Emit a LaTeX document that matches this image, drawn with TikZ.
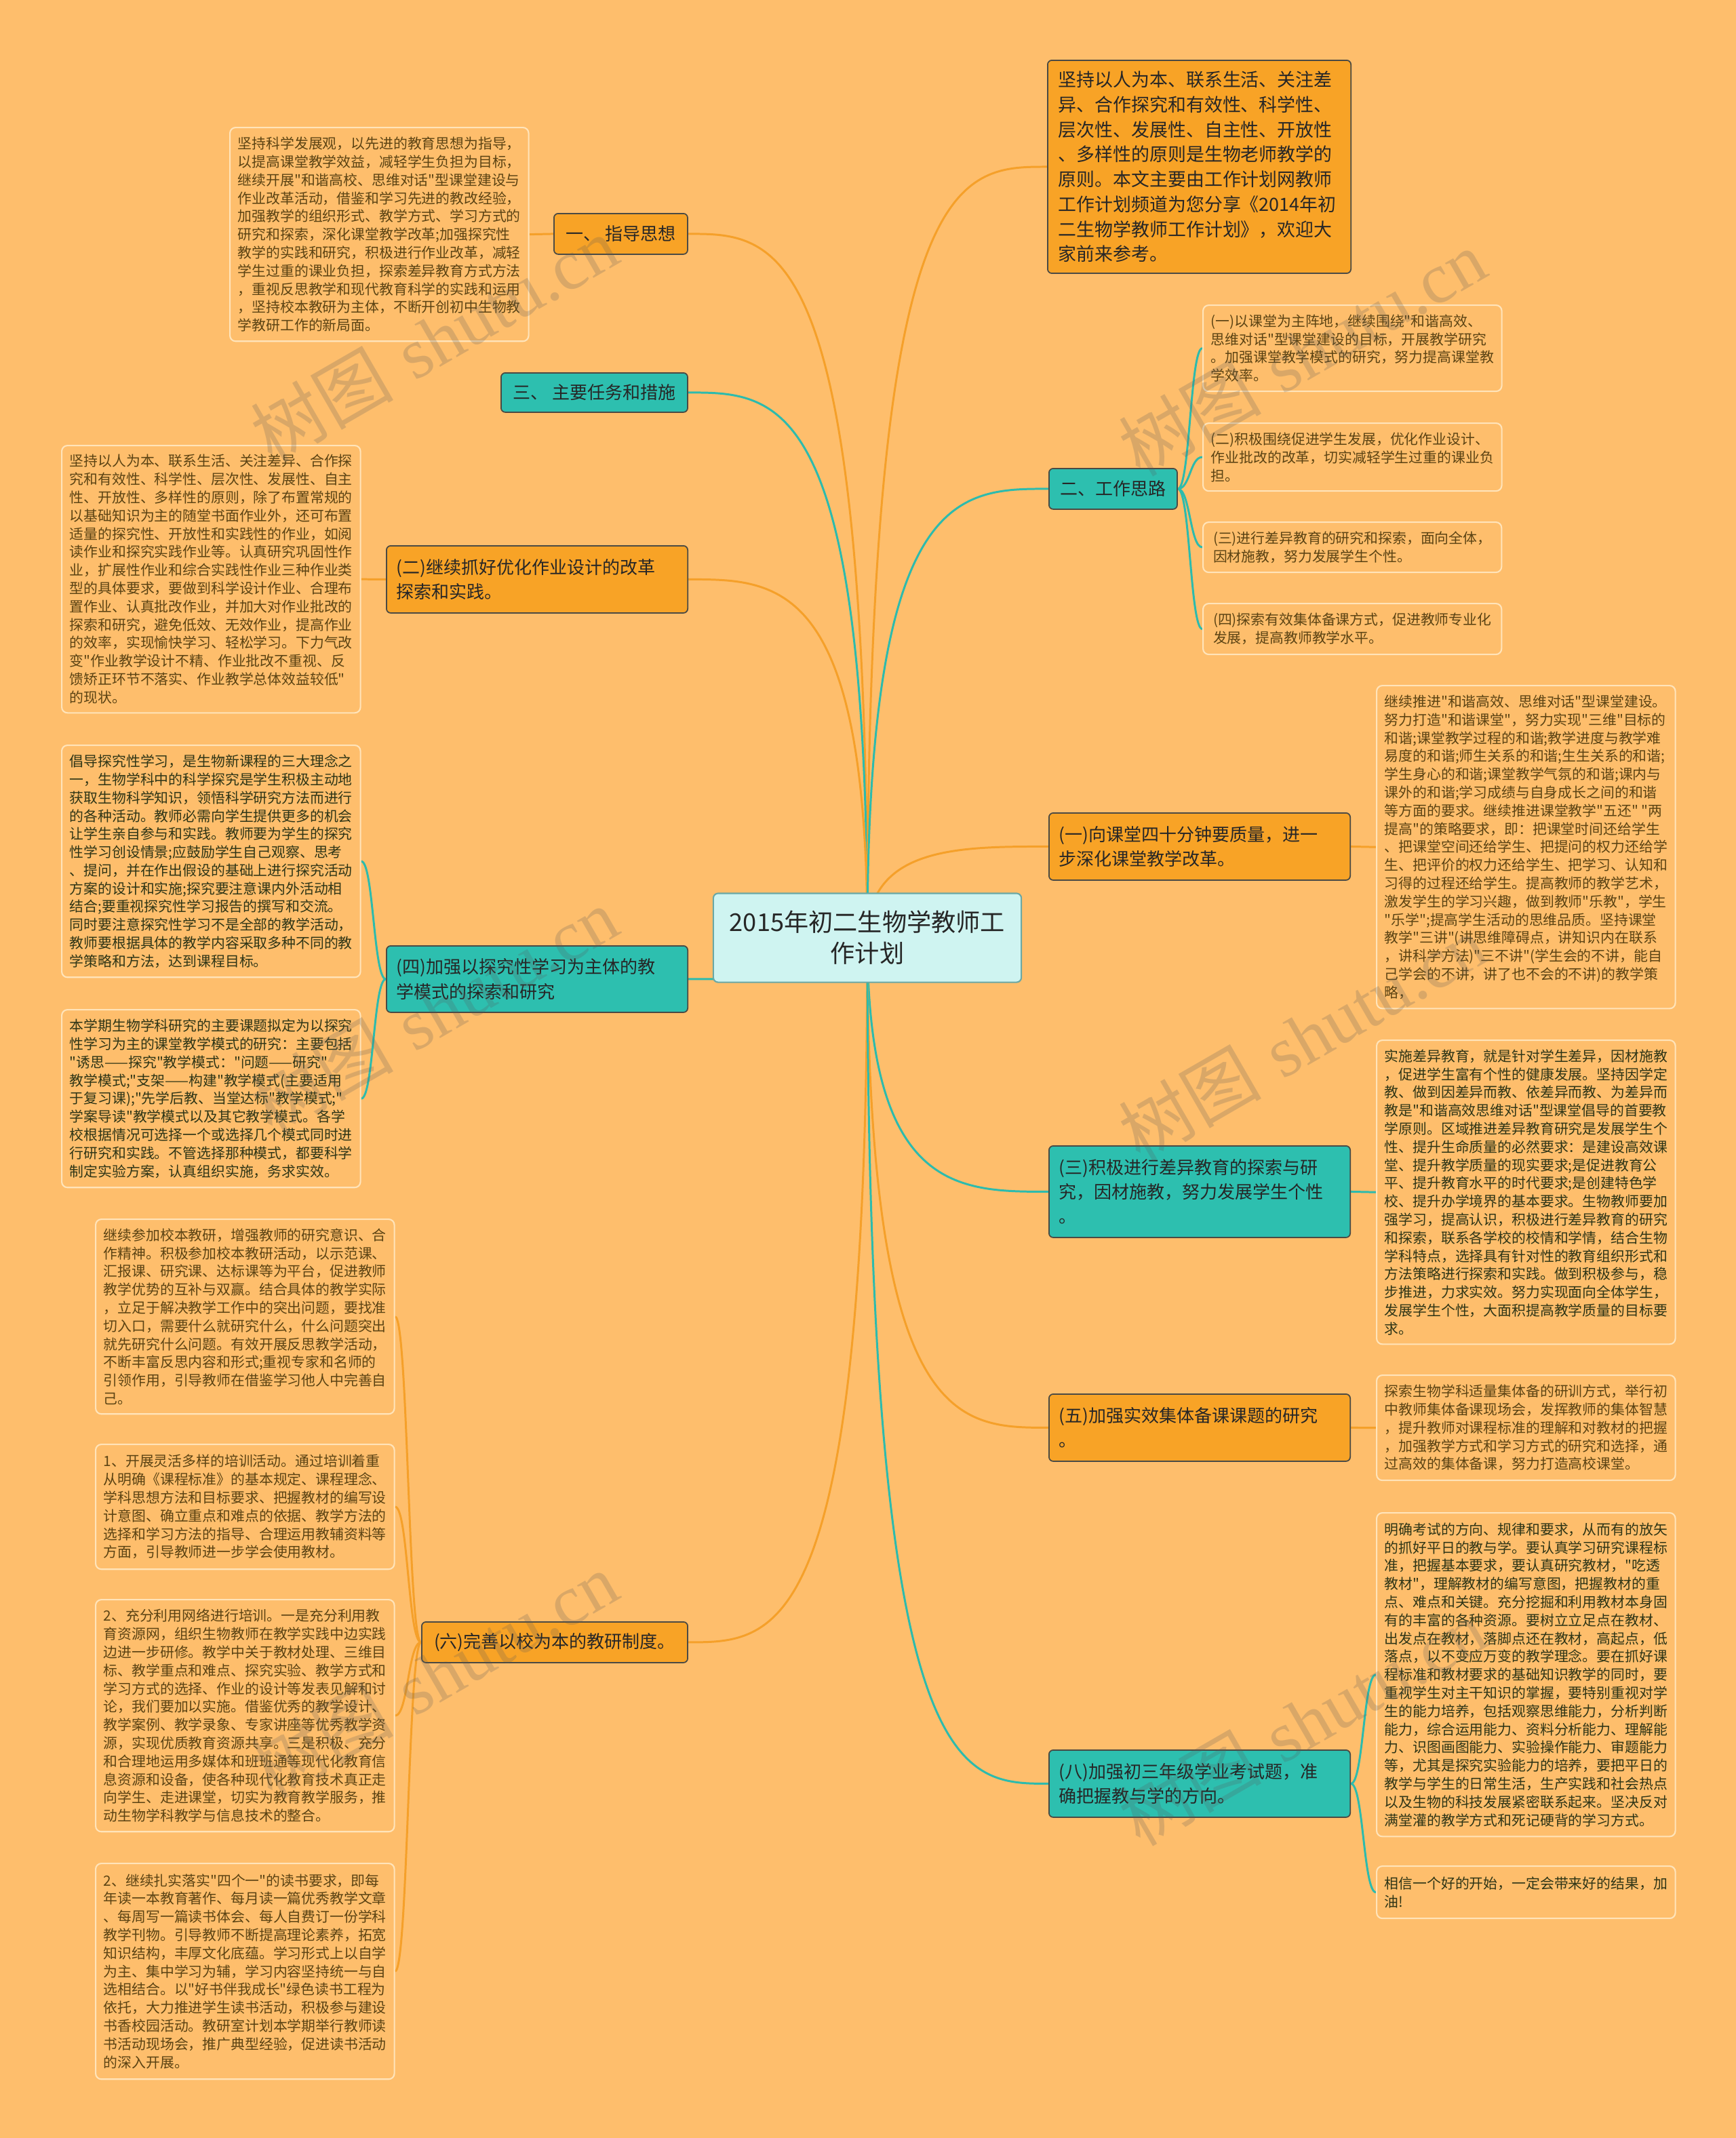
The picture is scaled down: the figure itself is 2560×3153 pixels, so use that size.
\documentclass[tikz,border=0pt]{standalone}
\usepackage{fontspec}
\usepackage{tikz}
\usetikzlibrary{calc, backgrounds}
\newfontfamily\cjk{Noto Sans CJK SC}
\newfontfamily\wmserif{Liberation Serif}
\definecolor{bgc}{HTML}{FEBE6C}
\definecolor{leafedge}{HTML}{FFE4BA}
\definecolor{leafbrown}{HTML}{5B4313}
\definecolor{leafdark}{HTML}{2E3516}
\definecolor{obr}{HTML}{F8A326}
\definecolor{tbr}{HTML}{2DBFAF}
\definecolor{nodeedge}{HTML}{4A4A44}
\definecolor{rootfill}{HTML}{CFF4F1}
\definecolor{rootedge}{HTML}{6AA8A5}
\definecolor{olinkc}{HTML}{F5A02A}
\definecolor{tlinkc}{HTML}{2DBBAD}
\newcommand{\leaffont}{\cjk\fontsize{5.93pt}{7.62pt}\selectfont}
\newcommand{\branchfont}{\cjk\fontsize{7.4pt}{10.3pt}\selectfont}
\newcommand{\introfont}{\cjk\fontsize{7.65pt}{10.45pt}\selectfont}
\newcommand{\rootfont}{\cjk\fontsize{10.3pt}{13.1pt}\selectfont}
\newcommand{\wmtext}{{\cjk 树图} {\wmserif shutu.cn}}

\begin{document}
\begin{tikzpicture}[x=0.01cm, y=-0.01cm,
  font=\leaffont,
  root/.style={rectangle, rounded corners=2pt, draw=rootedge, fill=rootfill, line width=0.6pt,
               minimum width=4.54cm, minimum height=1.31cm, align=center, font=\rootfont, text=black!85},
  branch/.style={rectangle, rounded corners=1.8pt, draw=nodeedge, line width=0.5pt, anchor=north west,
                 font=\branchfont, text=black!85, minimum height=0.6cm, align=center},
  ob/.style={branch, fill=obr},
  tb/.style={branch, fill=tbr},
  wide/.style={align=left, text width=4.15cm, inner xsep=0.145cm, minimum height=0.99cm},
  intro/.style={branch, fill=obr, font=\introfont, align=left, text width=4.15cm, inner xsep=0.16cm,
                minimum height=3.14cm},
  leaf/.style={rectangle, rounded corners=2.4pt, draw=leafedge, line width=0.6pt, fill=bgc,
               anchor=north west, align=left, minimum width=4.4cm, font=\leaffont, text=leafbrown},
  dleaf/.style={leaf, text=leafdark},
  olink/.style={draw=olinkc, line width=0.85pt},
  tlink/.style={draw=tlinkc, line width=0.85pt},
  wmark/.style={text=gray!70!black, opacity=0.22, rotate=30, font=\fontsize{30pt}{30pt}\selectfont}]
\useasboundingbox (0,0) rectangle (2560,3153);
% --- root ---
\node[root] (R) at (1279,1383) {2015年初二生物学教师工\\作计划};
% --- left branches ---
\node[ob, minimum width=1.97cm] (n1) at (816,314) {一、 指导思想};
\node[tb, minimum width=2.75cm, minimum height=0.58cm] (n3) at (738,549) {三、 主要任务和措施};
\node[ob, wide] (n2) at (569,804) {(二)继续抓好优化作业设计的改革\\探索和实践。};
\node[tb, wide, minimum height=0.98cm] (n4) at (569,1394) {(四)加强以探究性学习为主体的教\\学模式的探索和研究};
\node[ob, minimum width=3.92cm] (n6) at (621,2391) {(六)完善以校为本的教研制度。};
% --- right branches ---
\node[intro] (in) at (1544,88) {坚持以人为本、联系生活、关注差\\异、合作探究和有效性、科学性、\\层次性、发展性、自主性、开放性\\、多样性的原则是生物老师教学的\\原则。本文主要由工作计划网教师\\工作计划频道为您分享《2014年初\\二生物学教师工作计划》，欢迎大\\家前来参考。};
\node[tb, minimum width=1.89cm] (w2) at (1546,690) {二、工作思路};
\node[ob, wide] (r1) at (1546,1198) {(一)向课堂四十分钟要质量，进一\\步深化课堂教学改革。};
\node[tb, wide, minimum height=1.35cm] (r3) at (1546,1689) {(三)积极进行差异教育的探索与研\\究，因材施教，努力发展学生个性\\。};
\node[ob, wide] (r5) at (1546,2055) {(五)加强实效集体备课课题的研究\\。};
\node[tb, wide] (r8) at (1546,2580) {(八)加强初三年级学业考试题，准\\确把握教与学的方向。};
% --- left leaves ---
\node[leaf, minimum height=3.15cm] (L1) at (338,187) {坚持科学发展观，以先进的教育思想为指导，\\以提高课堂教学效益，减轻学生负担为目标，\\继续开展"和谐高校、思维对话"型课堂建设与\\作业改革活动，借鉴和学习先进的教改经验，\\加强教学的组织形式、教学方式、学习方式的\\研究和探索，深化课堂教学改革;加强探究性\\教学的实践和研究，积极进行作业改革，减轻\\学生过重的课业负担，探索差异教育方式方法\\，重视反思教学和现代教育科学的实践和运用\\，坚持校本教研为主体，不断开创初中生物教\\学教研工作的新局面。};
\node[leaf, minimum height=3.94cm] (L2) at (90,656) {坚持以人为本、联系生活、关注差异、合作探\\究和有效性、科学性、层次性、发展性、自主\\性、开放性、多样性的原则，除了布置常规的\\以基础知识为主的随堂书面作业外，还可布置\\适量的探究性、开放性和实践性的作业，如阅\\读作业和探究实践作业等。认真研究巩固性作\\业，扩展性作业和综合实践性作业三种作业类\\型的具体要求，要做到科学设计作业、合理布\\置作业、认真批改作业，并加大对作业批改的\\探索和研究，避免低效、无效作业，提高作业\\的效率，实现愉快学习、轻松学习。下力气改\\变"作业教学设计不精、作业批改不重视、反\\馈矫正环节不落实、作业教学总体效益较低"\\的现状。};
\node[dleaf, minimum height=3.42cm] (L4a) at (90,1098) {倡导探究性学习，是生物新课程的三大理念之\\一，生物学科中的科学探究是学生积极主动地\\获取生物科学知识，领悟科学研究方法而进行\\的各种活动。教师必需向学生提供更多的机会\\让学生亲自参与和实践。教师要为学生的探究\\性学习创设情景;应鼓励学生自己观察、思考\\、提问，并在作出假设的基础上进行探究活动\\方案的设计和实施;探究要注意课内外活动相\\结合;要重视探究性学习报告的撰写和交流。\\同时要注意探究性学习不是全部的教学活动，\\教师要根据具体的教学内容采取多种不同的教\\学策略和方法，达到课程目标。};
\node[dleaf, minimum height=2.62cm] (L4b) at (90,1488) {本学期生物学科研究的主要课题拟定为以探究\\性学习为主的课堂教学模式的研究：主要包括\\"诱思——探究"教学模式："问题——研究"\\教学模式;"支架——构建"教学模式(主要适用\\于复习课);"先学后教、当堂达标"教学模式;"\\学案导读"教学模式以及其它教学模式。各学\\校根据情况可选择一个或选择几个模式同时进\\行研究和实践。不管选择那种模式，都要科学\\制定实验方案，认真组织实施，务求实效。};
\node[leaf, minimum height=2.87cm] (L6a) at (140,1797) {继续参加校本教研，增强教师的研究意识、合\\作精神。积极参加校本教研活动，以示范课、\\汇报课、研究课、达标课等为平台，促进教师\\教学优势的互补与双赢。结合具体的教学实际\\，立足于解决教学工作中的突出问题，要找准\\切入口，需要什么就研究什么，什么问题突出\\就先研究什么问题。有效开展反思教学活动，\\不断丰富反思内容和形式;重视专家和名师的\\引领作用，引导教师在借鉴学习他人中完善自\\己。};
\node[leaf, minimum height=1.84cm] (L6b) at (140,2129) {1、开展灵活多样的培训活动。通过培训着重\\从明确《课程标准》的基本规定、课程理念、\\学科思想方法和目标要求、把握教材的编写设\\计意图、确立重点和难点的依据、教学方法的\\选择和学习方法的指导、合理运用教辅资料等\\方面，引导教师进一步学会使用教材。};
\node[leaf, minimum height=3.42cm] (L6c) at (140,2358) {2、充分利用网络进行培训。一是充分利用教\\育资源网，组织生物教师在教学实践中边实践\\边进一步研修。教学中关于教材处理、三维目\\标、教学重点和难点、探究实验、教学方式和\\学习方式的选择、作业的设计等发表见解和讨\\论，我们要加以实施。借鉴优秀的教学设计、\\教学案例、教学录象、专家讲座等优秀教学资\\源，实现优质教育资源共享。三是积极、充分\\和合理地运用多媒体和班班通等现代化教育信\\息资源和设备，使各种现代化教育技术真正走\\向学生、走进课堂，切实为教育教学服务，推\\动生物学科教学与信息技术的整合。};
\node[leaf, minimum height=3.18cm] (L6d) at (140,2747) {2、继续扎实落实"四个一"的读书要求，即每\\年读一本教育著作、每月读一篇优秀教学文章\\、每周写一篇读书体会、每人自费订一份学科\\教学刊物。引导教师不断提高理论素养，拓宽\\知识结构，丰厚文化底蕴。学习形式上以自学\\为主、集中学习为辅，学习内容坚持统一与自\\选相结合。以"好书伴我成长"绿色读书工程为\\依托，大力推进学生读书活动，积极参与建设\\书香校园活动。教研室计划本学期举行教师读\\书活动现场会，推广典型经验，促进读书活动\\的深入开展。};
% --- right leaves ---
\node[leaf, minimum height=1.27cm] (W1) at (1773,449) {(一)以课堂为主阵地，继续围绕"和谐高效、\\思维对话"型课堂建设的目标，开展教学研究\\。加强课堂教学模式的研究，努力提高课堂教\\学效率。};
\node[leaf, minimum height=1.00cm] (W2) at (1773,623) {(二)积极围绕促进学生发展，优化作业设计、\\作业批改的改革，切实减轻学生过重的课业负\\担。};
\node[leaf, minimum height=0.74cm] (W3) at (1773,769) {(三)进行差异教育的研究和探索，面向全体，\\因材施教，努力发展学生个性。};
\node[leaf, minimum height=0.75cm] (W4) at (1773,889) {(四)探索有效集体备课方式，促进教师专业化\\发展，提高教师教学水平。};
\node[leaf, minimum height=4.76cm] (R1) at (2029,1010) {继续推进"和谐高效、思维对话"型课堂建设。\\努力打造"和谐课堂"，努力实现"三维"目标的\\和谐;课堂教学过程的和谐;教学进度与教学难\\易度的和谐;师生关系的和谐;生生关系的和谐;\\学生身心的和谐;课堂教学气氛的和谐;课内与\\课外的和谐;学习成绩与自身成长之间的和谐\\等方面的要求。继续推进课堂教学"五还" "两\\提高"的策略要求，即：把课堂时间还给学生\\、把课堂空间还给学生、把提问的权力还给学\\生、把评价的权力还给学生、把学习、认知和\\习得的过程还给学生。提高教师的教学艺术，\\激发学生的学习兴趣，做到教师"乐教"，学生\\"乐学";提高学生活动的思维品质。坚持课堂\\教学"三讲"(讲思维障碍点，讲知识内在联系\\，讲科学方法)"三不讲"(学生会的不讲，能自\\己学会的不讲，讲了也不会的不讲)的教学策\\略，};
\node[dleaf, minimum height=4.48cm] (R3) at (2029,1533) {实施差异教育，就是针对学生差异，因材施教\\，促进学生富有个性的健康发展。坚持因学定\\教、做到因差异而教、依差异而教、为差异而\\教是"和谐高效思维对话"型课堂倡导的首要教\\学原则。区域推进差异教育研究是发展学生个\\性、提升生命质量的必然要求：是建设高效课\\堂、提升教学质量的现实要求;是促进教育公\\平、提升教育水平的时代要求;是创建特色学\\校、提升办学境界的基本要求。生物教师要加\\强学习，提高认识，积极进行差异教育的研究\\和探索，联系各学校的校情和学情，结合生物\\学科特点，选择具有针对性的教育组织形式和\\方法策略进行探索和实践。做到积极参与，稳\\步推进，力求实效。努力实现面向全体学生，\\发展学生个性，大面积提高教学质量的目标要\\求。};
\node[leaf, minimum height=1.55cm] (R5) at (2029,2027) {探索生物学科适量集体备的研训方式，举行初\\中教师集体备课现场会，发挥教师的集体智慧\\，提升教师对课程标准的理解和对教材的把握\\，加强教学方式和学习方式的研究和选择，通\\过高效的集体备课，努力打造高校课堂。};
\node[dleaf, minimum height=4.77cm] (R8a) at (2029,2230) {明确考试的方向、规律和要求，从而有的放矢\\的抓好平日的教与学。要认真学习研究课程标\\准，把握基本要求，要认真研究教材，"吃透\\教材"，理解教材的编写意图，把握教材的重\\点、难点和关键。充分挖掘和利用教材本身固\\有的丰富的各种资源。要树立立足点在教材、\\出发点在教材，落脚点还在教材，高起点，低\\落点，以不变应万变的教学理念。要在抓好课\\程标准和教材要求的基础知识教学的同时，要\\重视学生对主干知识的掌握，要特别重视对学\\生的能力培养，包括观察思维能力，分析判断\\能力，综合运用能力、资料分析能力、理解能\\力、识图画图能力、实验操作能力、审题能力\\等，尤其是探究实验能力的培养，要把平日的\\教学与学生的日常生活，生产实践和社会热点\\以及生物的科技发展紧密联系起来。坚决反对\\满堂灌的教学方式和死记硬背的学习方式。};
\node[dleaf, minimum height=0.77cm] (R8b) at (2029,2751) {相信一个好的开始，一定会带来好的结果，加\\油!};
% --- background and connectors ---
\begin{scope}[on background layer]
\fill[bgc] (0,0) rectangle (2560,3153);
\foreach \t/\c in {n1/olink, n3/tlink, n2/olink, n4/tlink, n6/olink}
  \draw[\c] (R.center) .. controls (R.center |- \t.east) and ($(R.center |- \t.east)!0.5!(\t.east)$) .. (\t.east);
\foreach \t/\c in {in/olink, w2/tlink, r1/olink, r3/tlink, r5/olink, r8/tlink}
  \draw[\c] (R.center) .. controls (R.center |- \t.west) and ($(R.center |- \t.west)!0.5!(\t.west)$) .. (\t.west);
\foreach \s/\p/\c in {n1/L1/olink, n2/L2/olink, n4/L4a/tlink, n4/L4b/tlink,
                      n6/L6a/olink, n6/L6b/olink, n6/L6c/olink, n6/L6d/olink}
  \draw[\c] (\s.west) .. controls ($(\s.west)!0.5!(\s.west -| \p.east)$) and ($(\p.east)!0.5!(\p.east -| \s.west)$) .. (\p.east);
\foreach \s/\p/\c in {w2/W1/tlink, w2/W2/tlink, w2/W3/tlink, w2/W4/tlink, r1/R1/olink,
                      r3/R3/tlink, r5/R5/olink, r8/R8a/tlink, r8/R8b/tlink}
  \draw[\c] (\s.east) .. controls ($(\s.east)!0.5!(\s.east -| \p.west)$) and ($(\p.west)!0.5!(\p.west -| \s.east)$) .. (\p.west);
\end{scope}
% --- watermarks ---
\node[wmark] (wm1) at (640,500) {\wmtext};
\node[wmark] (wm2) at (640,1490) {\wmtext};
\node[wmark] (wm3) at (640,2470) {\wmtext};
\node[wmark] (wm4) at (1920,520) {\wmtext};
\node[wmark] (wm5) at (1920,1530) {\wmtext};
\node[wmark] (wm6) at (1920,2540) {\wmtext};
\end{tikzpicture}
\end{document}
